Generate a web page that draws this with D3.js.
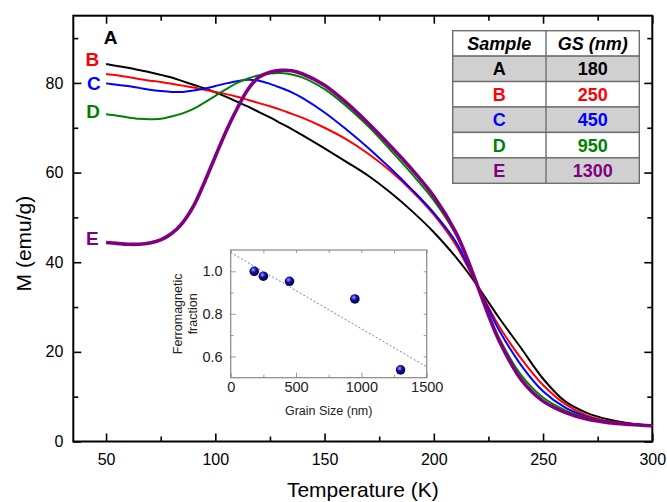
<!DOCTYPE html>
<html>
<head>
<meta charset="utf-8">
<script src="https://cdn.jsdelivr.net/npm/d3@7"></script>
<style>
  body { margin: 0; background: #fff; }
  svg { font-family: "Liberation Sans", Arial, sans-serif; }
</style>
</head>
<body>
<div id="chart"></div>
<script>
// temperature grid (K) shared by all curves
const temps = [50, 55, 60, 65, 70, 75, 80, 85, 90, 95, 100, 105, 110, 115, 120, 125, 130, 135, 140,
  150, 160, 170, 180, 190, 200, 210, 215, 220, 225, 230, 240, 250, 260, 270, 280, 290, 300];

// magnetization M (emu/g)
const magA = [84.2, 83.8, 83.4, 82.9, 82.4, 81.8, 81.2, 80.4, 79.6, 78.8, 77.9, 76.9, 75.8, 74.7, 73.5, 72.3, 71.0, 69.7, 68.3,
  65.4, 62.4, 59.3, 55.6, 51.4, 46.7, 41.2, 38.1, 34.7, 31.1, 27.5, 20.8, 14.0, 9.0, 6.4, 4.9, 4.0, 3.5];
const magB = [82.0, 81.7, 81.3, 80.9, 80.5, 80.2, 79.8, 79.4, 79.0, 78.5, 78.0, 77.5, 76.9, 76.2, 75.5, 74.8, 74.0, 73.1, 72.2,
  70.0, 67.4, 64.2, 60.4, 55.9, 50.6, 43.9, 39.4, 34.7, 30.0, 25.6, 18.5, 12.6, 8.4, 5.8, 4.5, 3.9, 3.5];
const magC = [79.9, 79.6, 79.3, 78.9, 78.5, 78.2, 78.0, 78.0, 78.3, 78.7, 79.3, 79.9, 80.4, 80.7, 80.5, 79.8, 78.9, 77.9, 76.6,
  73.4, 69.6, 65.5, 61.0, 56.2, 51.0, 44.6, 39.9, 34.7, 29.5, 24.7, 17.0, 11.2, 7.6, 5.5, 4.4, 3.8, 3.5];
const magD = [73.0, 72.7, 72.3, 72.0, 71.9, 72.0, 72.5, 73.2, 74.2, 75.6, 77.1, 78.6, 80.0, 81.0, 81.7, 82.1, 82.2, 81.9, 81.2,
  78.6, 74.8, 70.3, 65.1, 59.7, 53.8, 46.3, 41.0, 34.7, 28.5, 23.0, 14.8, 9.8, 7.0, 5.3, 4.3, 3.8, 3.5];
const magE = [44.4, 44.2, 44.0, 44.0, 44.3, 45.0, 46.4, 48.8, 52.5, 57.8, 63.6, 69.3, 74.3, 78.6, 81.3, 82.4, 82.8, 82.7, 82.0,
  79.5, 75.6, 71.0, 66.0, 60.7, 54.7, 46.7, 41.2, 34.7, 28.2, 22.4, 13.8, 9.0, 6.5, 5.0, 4.2, 3.8, 3.5];

const samples = ["A", "B", "C", "D", "E"];
const grainSizes = [180, 250, 450, 950, 1300];
const fractions = [1.0, 0.977, 0.953, 0.870, 0.537];
const fitEnds = [[0, 1.088], [1500, 0.551]];

const xTicks = [50, 100, 150, 200, 250, 300];
const xMinor = [75, 125, 175, 225, 275];
const yTicks = [0, 20, 40, 60, 80];
const yMinor = [10, 30, 50, 70, 90];
const insetXTicks = [0, 500, 1000, 1500];
const insetXMinor = [250, 750, 1250];
const insetYTicks = [0.6, 0.8, 1.0];
const insetYMinor = [0.7, 0.9];

const colors = ["#000000", "#ff0000", "#0000ff", "#008000", "#800080"];
const widths = [2, 2, 2, 2, 3.6];
// label offsets from the first point of each curve: [dx, dy]
const labelOffsets = [[4.6, -20], [-13.7, -8.3], [-12.2, 6.6], [-13, 3.4], [-13.8, 2.5]];

const width = 667, height = 502;
const svg = d3.select("#chart").append("svg")
  .attr("width", width).attr("height", height);

// ---------- main plot ----------
const plot = { left: 73.3, right: 652.3, top: 15.7, bottom: 441.5 };
const x = d3.scaleLinear().domain([35, 300]).range([plot.left, plot.right]);
const y = d3.scaleLinear().domain([0, 95]).range([plot.bottom, plot.top]);

function tickAxis(g, axis) {
  g.call(axis);
  g.select(".domain").remove();
  g.selectAll(".tick line").attr("stroke", "#000").attr("stroke-width", 1.6);
}

const major = 8, minor = 5;
svg.append("g").attr("transform", `translate(0,${plot.bottom})`)
  .call(g => tickAxis(g, d3.axisBottom(x).tickValues(xTicks).tickSize(-major).tickPadding(12)))
  .call(g => g.selectAll("text").attr("font-size", 16).attr("fill", "#000"));
svg.append("g").attr("transform", `translate(0,${plot.bottom})`)
  .call(g => tickAxis(g, d3.axisBottom(x).tickValues(xMinor).tickSize(-minor).tickFormat("")));
svg.append("g").attr("transform", `translate(0,${plot.top})`)
  .call(g => tickAxis(g, d3.axisTop(x).tickValues(xTicks).tickSize(-major).tickFormat("")));
svg.append("g").attr("transform", `translate(0,${plot.top})`)
  .call(g => tickAxis(g, d3.axisTop(x).tickValues(xMinor).tickSize(-minor).tickFormat("")));

svg.append("g").attr("transform", `translate(${plot.left},0)`)
  .call(g => tickAxis(g, d3.axisLeft(y).tickValues(yTicks).tickSize(-major).tickPadding(10)))
  .call(g => g.selectAll("text").attr("font-size", 16).attr("fill", "#000"));
svg.append("g").attr("transform", `translate(${plot.left},0)`)
  .call(g => tickAxis(g, d3.axisLeft(y).tickValues(yMinor).tickSize(-minor).tickFormat("")));
svg.append("g").attr("transform", `translate(${plot.right},0)`)
  .call(g => tickAxis(g, d3.axisRight(y).tickValues(yTicks).tickSize(-major).tickFormat("")));
svg.append("g").attr("transform", `translate(${plot.right},0)`)
  .call(g => tickAxis(g, d3.axisRight(y).tickValues(yMinor).tickSize(-minor).tickFormat("")));

svg.append("rect")
  .attr("x", plot.left).attr("y", plot.top)
  .attr("width", plot.right - plot.left).attr("height", plot.bottom - plot.top)
  .attr("fill", "none").attr("stroke", "#000").attr("stroke-width", 2);

svg.append("text")
  .attr("x", (plot.left + plot.right) / 2).attr("y", 497)
  .attr("text-anchor", "middle").attr("font-size", 21)
  .text("Temperature (K)");
svg.append("text")
  .attr("transform", `translate(31,${(plot.top + plot.bottom) / 2 + 15}) rotate(-90)`)
  .attr("text-anchor", "middle").attr("font-size", 21)
  .text("M (emu/g)");

// ---------- inset ----------
const ins = { left: 230.7, right: 426.7, top: 250, bottom: 377.7 };
const ix = d3.scaleLinear().domain([0, 1500]).range([ins.left, ins.right]);
const iy = d3.scaleLinear().domain([0.5, 1.1]).range([ins.bottom, ins.top]);

svg.append("rect")
  .attr("x", ins.left).attr("y", ins.top)
  .attr("width", ins.right - ins.left).attr("height", ins.bottom - ins.top)
  .attr("fill", "#fff");

function insetAxis(g, axis) {
  g.call(axis);
  g.select(".domain").remove();
  g.selectAll(".tick line").attr("stroke", "#999").attr("stroke-width", 1);
  g.selectAll("text").attr("font-size", 14.5).attr("fill", "#222");
}
svg.append("g").attr("transform", `translate(0,${ins.bottom})`)
  .call(g => insetAxis(g, d3.axisBottom(ix).tickValues(insetXTicks).tickSize(-5).tickPadding(4).tickFormat(d3.format("d"))));
svg.append("g").attr("transform", `translate(0,${ins.bottom})`)
  .call(g => insetAxis(g, d3.axisBottom(ix).tickValues(insetXMinor).tickSize(-3).tickFormat("")));
svg.append("g").attr("transform", `translate(0,${ins.top})`)
  .call(g => insetAxis(g, d3.axisTop(ix).tickValues(insetXTicks.concat(insetXMinor)).tickSize(-3).tickFormat("")));
svg.append("g").attr("transform", `translate(${ins.left},0)`)
  .call(g => insetAxis(g, d3.axisLeft(iy).tickValues(insetYTicks).tickSize(-5).tickPadding(8).tickFormat(d3.format(".1f"))));
svg.append("g").attr("transform", `translate(${ins.left},0)`)
  .call(g => insetAxis(g, d3.axisLeft(iy).tickValues(insetYMinor).tickSize(-3).tickFormat("")));
svg.append("g").attr("transform", `translate(${ins.right},0)`)
  .call(g => insetAxis(g, d3.axisRight(iy).tickValues(insetYTicks.concat(insetYMinor)).tickSize(-3).tickFormat("")));

svg.append("rect")
  .attr("x", ins.left).attr("y", ins.top)
  .attr("width", ins.right - ins.left).attr("height", ins.bottom - ins.top)
  .attr("fill", "none").attr("stroke", "#888").attr("stroke-width", 1.2);

svg.append("line")
  .attr("x1", ix(fitEnds[0][0])).attr("y1", iy(fitEnds[0][1]))
  .attr("x2", ix(fitEnds[1][0])).attr("y2", iy(fitEnds[1][1]))
  .attr("stroke", "#7777ee").attr("stroke-width", 1).attr("stroke-dasharray", "2,2");

const defs = svg.append("defs");
const grad = defs.append("radialGradient").attr("id", "ball")
  .attr("cx", "40%").attr("cy", "35%").attr("r", "65%");
grad.append("stop").attr("offset", "0%").attr("stop-color", "#9aa0ff");
grad.append("stop").attr("offset", "45%").attr("stop-color", "#10109a");
grad.append("stop").attr("offset", "100%").attr("stop-color", "#000040");

svg.append("g").selectAll("circle")
  .data(grainSizes.map((g, i) => ({ g, f: fractions[i] })))
  .join("circle")
  .attr("cx", d => ix(d.g)).attr("cy", d => iy(d.f))
  .attr("r", 4.8).attr("fill", "url(#ball)");

svg.append("text")
  .attr("x", (ins.left + ins.right) / 2).attr("y", 415)
  .attr("text-anchor", "middle").attr("font-size", 12.5).attr("fill", "#222")
  .text("Grain Size (nm)");
const ymid = (ins.top + ins.bottom) / 2;
svg.append("text")
  .attr("transform", `translate(182,${ymid}) rotate(-90)`)
  .attr("text-anchor", "middle").attr("font-size", 12.5).attr("fill", "#222")
  .text("Ferromagnetic");
svg.append("text")
  .attr("transform", `translate(197,${ymid}) rotate(-90)`)
  .attr("text-anchor", "middle").attr("font-size", 12.5).attr("fill", "#222")
  .text("fraction");

// ---------- curves ----------
const series = [magA, magB, magC, magD, magE];
const line = d3.line()
  .x(d => x(d[0])).y(d => y(d[1]))
  .curve(d3.curveCatmullRom.alpha(0.5));

svg.append("g").selectAll("path")
  .data(series)
  .join("path")
  .attr("d", m => line(temps.map((t, i) => [t, m[i]])))
  .attr("fill", "none")
  .attr("stroke", (m, i) => colors[i])
  .attr("stroke-width", (m, i) => widths[i])
  .attr("stroke-linejoin", "round");

svg.append("g").selectAll("text")
  .data(series)
  .join("text")
  .attr("x", (m, i) => x(temps[0]) + labelOffsets[i][0])
  .attr("y", (m, i) => y(m[0]) + labelOffsets[i][1])
  .attr("text-anchor", "middle")
  .attr("font-size", 19).attr("font-weight", "bold")
  .attr("fill", (m, i) => colors[i])
  .text((m, i) => samples[i]);

// ---------- table ----------
const tbl = { left: 452.7, mid: 546, right: 639.3, top: 30.7, rowH: 25.43 };
const rows = [["Sample", "GS (nm)"]].concat(samples.map((s, i) => [s, String(grainSizes[i])]));
const tg = svg.append("g");
rows.forEach((r, i) => {
  const ry = tbl.top + i * tbl.rowH;
  tg.append("rect")
    .attr("x", tbl.left).attr("y", ry)
    .attr("width", tbl.right - tbl.left).attr("height", tbl.rowH)
    .attr("fill", i % 2 === 1 ? "#d0d0d0" : "#fff")
    .attr("stroke", "#6e6e6e").attr("stroke-width", 1.4);
  const col = i === 0 ? "#000" : colors[i - 1];
  [[(tbl.left + tbl.mid) / 2, r[0]], [(tbl.mid + tbl.right) / 2, r[1]]].forEach(([cx, txt]) => {
    tg.append("text")
      .attr("x", cx).attr("y", ry + tbl.rowH / 2 + 6.5)
      .attr("text-anchor", "middle")
      .attr("font-size", 18).attr("font-weight", "bold")
      .attr("font-style", i === 0 ? "italic" : "normal")
      .attr("fill", col)
      .text(txt);
  });
});
tg.append("line")
  .attr("x1", tbl.mid).attr("x2", tbl.mid)
  .attr("y1", tbl.top).attr("y2", tbl.top + rows.length * tbl.rowH)
  .attr("stroke", "#6e6e6e").attr("stroke-width", 1.4);
</script>
</body>
</html>
